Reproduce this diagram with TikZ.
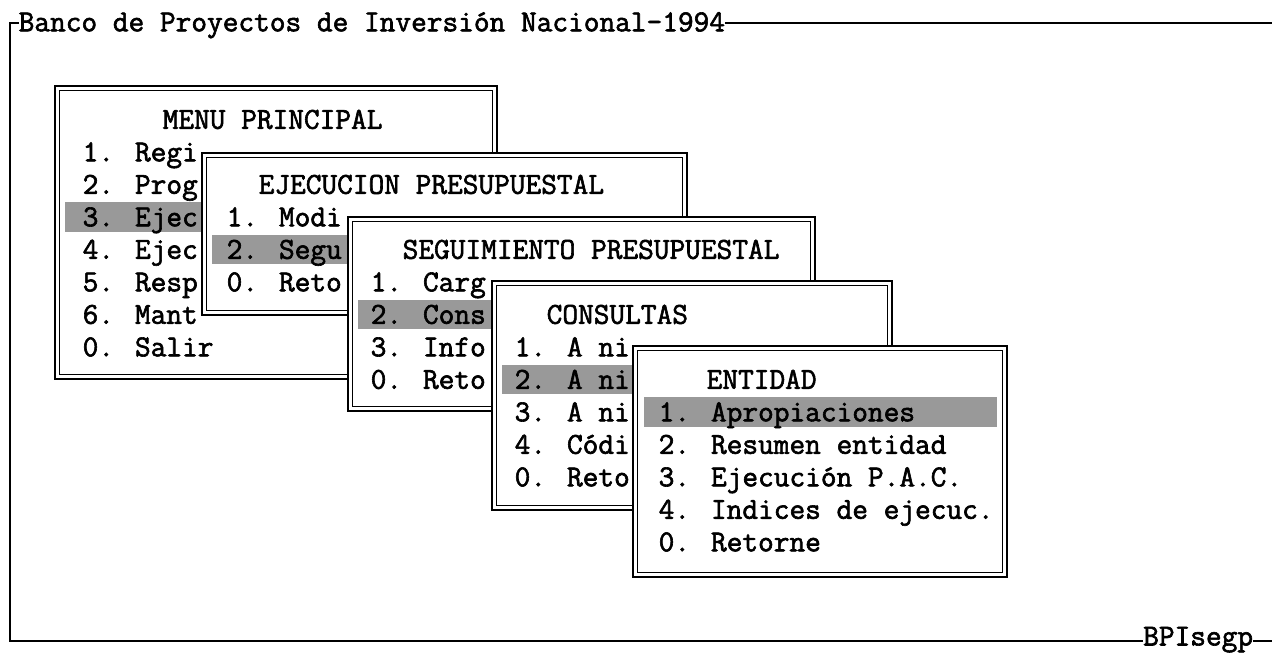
\documentclass[tikz,border=0pt]{standalone}
\usepackage{fontspec}
\newfontfamily\scrfont{Latin Modern Mono}[FakeBold=2]
\newcommand\scrbox[4]{%
  \fill[white] (#1,#2) rectangle (#3,#4);
  \draw[outerline] (#1,#2) rectangle (#3,#4);
  \draw[innerline] (#1+4.5,#2+4.5) rectangle (#3-4.5,#4-4.5);}
\def\bl#1{31.3+32.5*#1}
\def\cx#1{2.5+16*#1}
\begin{document}
\begin{tikzpicture}[x=1pt,y=-1pt,
  scrtext/.style={anchor=base west,inner sep=0pt,font=\scrfont\fontsize{30.48}{32}\selectfont},
  hlbar/.style={fill=black!40},
  outerline/.style={line width=2.2pt},
  innerline/.style={line width=1.1pt},
  frameline/.style={line width=1.8pt}]
\useasboundingbox (0,0) rectangle (1272,653);
\fill[white] (0,0) rectangle (1272,653);
% outer frame
\draw[frameline] (1272,23) -- (10,23) -- (10,641) -- (1272,641);
\node[scrtext,fill=white] (title) at ({\cx{1}},{\bl{0}}) {Banco de Proyectos de Inversión Nacional-1994};
\node[scrtext,fill=white] (code) at (1143,645.5) {BPIsegp};
% box 1
\scrbox{55}{86}{497}{379}
\fill[hlbar] (65,202) rectangle (487,231.5);
\node[scrtext] (m1t) at ({\cx{10}},{\bl{3}}) {MENU PRINCIPAL};
\node[scrtext] (m1a) at ({\cx{5}},{\bl{4}}) {1. Regi};
\node[scrtext] (m1b) at ({\cx{5}},{\bl{5}}) {2. Prog};
\node[scrtext] (m1c) at ({\cx{5}},{\bl{6}}) {3. Ejec};
\node[scrtext] (m1d) at ({\cx{5}},{\bl{7}}) {4. Ejec};
\node[scrtext] (m1e) at ({\cx{5}},{\bl{8}}) {5. Resp};
\node[scrtext] (m1f) at ({\cx{5}},{\bl{9}}) {6. Mant};
\node[scrtext] (m1g) at ({\cx{5}},{\bl{10}}) {0. Salir};
% box 2
\scrbox{202}{153}{687}{315}
\fill[hlbar] (212,234.5) rectangle (677,264);
\node[scrtext] (m2t) at ({\cx{16}},{\bl{5}}) {EJECUCION PRESUPUESTAL};
\node[scrtext] (m2a) at ({\cx{14}},{\bl{6}}) {1. Modi};
\node[scrtext] (m2b) at ({\cx{14}},{\bl{7}}) {2. Segu};
\node[scrtext] (m2c) at ({\cx{14}},{\bl{8}}) {0. Reto};
% box 3
\scrbox{348}{217}{815}{411}
\fill[hlbar] (358,299.5) rectangle (805,329);
\node[scrtext] (m3t) at ({\cx{25}},{\bl{7}}) {SEGUIMIENTO PRESUPUESTAL};
\node[scrtext] (m3a) at ({\cx{23}},{\bl{8}}) {1. Carg};
\node[scrtext] (m3b) at ({\cx{23}},{\bl{9}}) {2. Cons};
\node[scrtext] (m3c) at ({\cx{23}},{\bl{10}}) {3. Info};
\node[scrtext] (m3d) at ({\cx{23}},{\bl{11}}) {0. Reto};
% box 4
\scrbox{492}{281}{892}{510}
\fill[hlbar] (502,364.5) rectangle (882,394);
\node[scrtext] (m4t) at ({\cx{34}},{\bl{9}}) {CONSULTAS};
\node[scrtext] (m4a) at ({\cx{32}},{\bl{10}}) {1. A ni};
\node[scrtext] (m4b) at ({\cx{32}},{\bl{11}}) {2. A ni};
\node[scrtext] (m4c) at ({\cx{32}},{\bl{12}}) {3. A ni};
\node[scrtext] (m4d) at ({\cx{32}},{\bl{13}}) {4. Códi};
\node[scrtext] (m4e) at ({\cx{32}},{\bl{14}}) {0. Reto};
% box 5
\scrbox{633}{346}{1007}{577}
\fill[hlbar] (644,397) rectangle (997,426.5);
\node[scrtext] (m5t) at ({\cx{44}},{\bl{11}}) {ENTIDAD};
\node[scrtext] (m5a) at ({\cx{41}},{\bl{12}}) {1. Apropiaciones};
\node[scrtext] (m5b) at ({\cx{41}},{\bl{13}}) {2. Resumen entidad};
\node[scrtext] (m5c) at ({\cx{41}},{\bl{14}}) {3. Ejecución P.A.C.};
\node[scrtext] (m5d) at ({\cx{41}},{\bl{15}}) {4. Indices de ejecuc.};
\node[scrtext] (m5e) at ({\cx{41}},{\bl{16}}) {0. Retorne};
\end{tikzpicture}
\end{document}
